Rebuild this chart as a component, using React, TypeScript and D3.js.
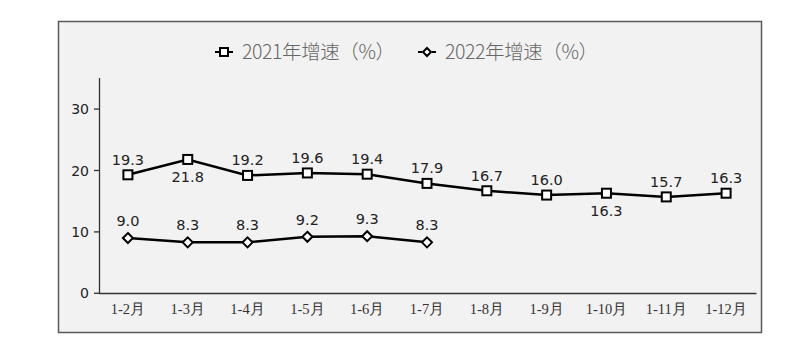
import React from "react";
import * as d3 from "d3";

const categories = ["1-2月", "1-3月", "1-4月", "1-5月", "1-6月", "1-7月", "1-8月", "1-9月", "1-10月", "1-11月", "1-12月"];
const values2021 = [19.3, 21.8, 19.2, 19.6, 19.4, 17.9, 16.7, 16.0, 16.3, 15.7, 16.3];
const values2022 = [9.0, 8.3, 8.3, 9.2, 9.3, 8.3];
const below2021 = [false, true, false, false, false, false, false, false, true, false, false];
const yTicks = [0, 10, 20, 30];
const seriesNames = ["2021年增速（%）", "2022年增速（%）"];

const W = 800, H = 363;

export default function App() {
  const x = d3.scaleBand<string>().domain(categories).range([98, 756]);
  const y = d3.scaleLinear().domain([0, 35]).range([293.3, 78.4]);
  const cx = (c: string) => (x(c) ?? 0) + x.bandwidth() / 2;
  const line = d3.line<number>().x((_, i) => cx(categories[i])).y((d) => y(d));
  const labelFont = "'DejaVu Sans', Verdana, sans-serif";

  const square = (px: number, py: number, s = 9) => (
    <rect x={px - s / 2} y={py - s / 2} width={s} height={s} fill="#fff" stroke="#000" strokeWidth={2} />
  );
  const diamond = (px: number, py: number, r = 5) => (
    <path d={`M${px},${py - r}L${px + r},${py}L${px},${py + r}L${px - r},${py}Z`} fill="#fff" stroke="#000" strokeWidth={2} />
  );
  const legendFont = "'Noto Sans CJK SC', sans-serif";

  return (
    <svg width={W} height={H} style={{ position: "absolute", left: 0, top: 0 }}>
      <rect x={0} y={0} width={W} height={H} fill="#fff" />
      <rect x={58.5} y={21.5} width={703} height={311} fill="#f2f2f2" stroke="#595959" strokeWidth={1.5} />

      {/* legend */}
      <g>
        <line x1={215} x2={219} y1={52} y2={52} stroke="#000" strokeWidth={2} />
        <line x1={229} x2={233} y1={52} y2={52} stroke="#000" strokeWidth={2} />
        {square(224, 52, 8)}
        <text x={242} y={59} fontSize={19.5} fill="#666" fontFamily={legendFont} fontWeight={300} textLength={153} lengthAdjust="spacing">{seriesNames[0]}</text>
        <line x1={418} x2={422} y1={52} y2={52} stroke="#000" strokeWidth={2} />
        <line x1={432} x2={436} y1={52} y2={52} stroke="#000" strokeWidth={2} />
        {diamond(427, 52, 4)}
        <text x={445} y={59} fontSize={19.5} fill="#666" fontFamily={legendFont} fontWeight={300} textLength={153} lengthAdjust="spacing">{seriesNames[1]}</text>
      </g>

      {/* axes */}
      <line x1={99.5} x2={99.5} y1={78} y2={293.5} stroke="#333" strokeWidth={1.3} />
      <line x1={99} x2={756.5} y1={293.5} y2={293.5} stroke="#333" strokeWidth={1.3} />
      {yTicks.map((t) => (
        <g key={t}>
          <line x1={94} x2={99.5} y1={y(t)} y2={y(t)} stroke="#333" strokeWidth={1.3} />
          <text x={89} y={y(t) + 5} textAnchor="end" fontSize={14} fill="#222" fontFamily={labelFont}>{t}</text>
        </g>
      ))}
      {categories.map((c) => (
        <text key={c} x={cx(c)} y={313.5} textAnchor="middle" fontSize={14.5} fill="#333" fontFamily="'Liberation Serif', 'DejaVu Serif', serif">{c}</text>
      ))}

      {/* lines */}
      <path d={line(values2021) ?? ""} fill="none" stroke="#000" strokeWidth={2.5} />
      <path d={line(values2022) ?? ""} fill="none" stroke="#000" strokeWidth={2.5} />
      {values2021.map((v, i) => (
        <g key={"a" + i}>
          {square(cx(categories[i]), y(v))}
          <text x={cx(categories[i])} y={below2021[i] ? y(v) + 23 : y(v) - 10} textAnchor="middle" fontSize={14.5} fill="#222" fontFamily={labelFont}>{v.toFixed(1)}</text>
        </g>
      ))}
      {values2022.map((v, i) => (
        <g key={"b" + i}>
          {diamond(cx(categories[i]), y(v))}
          <text x={cx(categories[i])} y={y(v) - 12} textAnchor="middle" fontSize={14.5} fill="#222" fontFamily={labelFont}>{v.toFixed(1)}</text>
        </g>
      ))}
    </svg>
  );
}
